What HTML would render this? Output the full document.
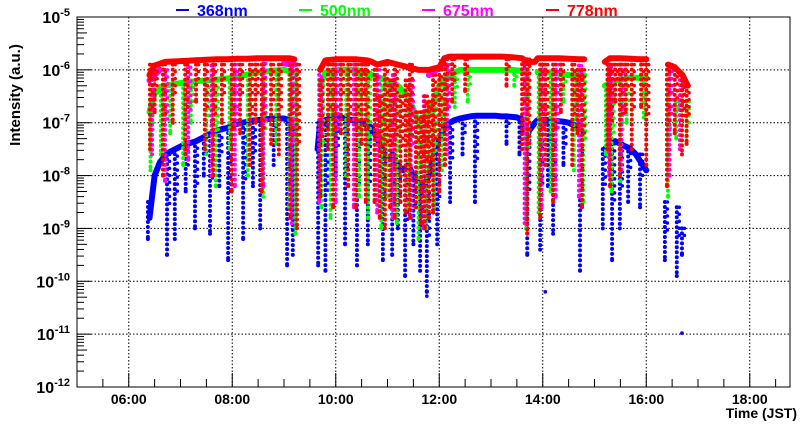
<!DOCTYPE html>
<html><head><meta charset="utf-8">
<style>
html,body{margin:0;padding:0;background:#fff;}
svg{display:block;font-family:"Liberation Sans",Arial,sans-serif;font-weight:bold;}
</style></head>
<body>
<svg id="chart" width="800" height="427" viewBox="0 0 800 427"></svg>
<script>
// ---- data (time in hours JST, value as log10 intensity) ----
const xTicks = [6, 8, 10, 12, 14, 16, 18];
const xTickLabels = ["06:00", "08:00", "10:00", "12:00", "14:00", "16:00", "18:00"];
const yDecades = [-12, -11, -10, -9, -8, -7, -6, -5];
const seriesNames = ["368nm", "500nm", "675nm", "778nm"];
const seriesColors = ["#0000ff", "#00ff00", "#ff00ff", "#ff0000"];

const blueBase = [[6.4,-8.8],[6.5,-8.0],[6.6,-7.75],[6.7,-7.62],[6.8,-7.55],[6.9,-7.5],[7.0,-7.45],[7.1,-7.4],[7.2,-7.38],[7.3,-7.35],[7.4,-7.3],[7.5,-7.25],[7.6,-7.2],[7.7,-7.15],[7.8,-7.12],[7.9,-7.1],[8.0,-7.05],[8.1,-7.02],[8.2,-7.0],[8.3,-6.98],[8.4,-6.96],[8.5,-6.95],[8.6,-6.94],[8.7,-6.93],[8.8,-6.92],[8.9,-6.92],[9.0,-6.92],[9.1,-6.95],[9.2,-7.2],
[9.65,-7.5],[9.7,-7.0],[9.8,-6.95],[9.9,-6.92],[10.0,-6.9],[10.1,-6.9],[10.2,-6.92],[10.3,-6.95],[10.4,-6.95],[10.5,-7.0],[10.6,-7.05],[10.7,-7.1],[10.8,-7.3],[10.9,-7.5],[11.0,-7.7],[11.1,-7.6],[11.2,-7.8],[11.3,-7.9],[11.4,-7.8],[11.5,-8.0],[11.6,-8.1],[11.7,-8.2],[11.8,-8.0],[11.9,-7.6],
[12.0,-7.3],[12.1,-7.1],[12.2,-7.0],[12.3,-6.95],[12.4,-6.92],[12.5,-6.9],[12.6,-6.88],[12.7,-6.87],[12.8,-6.87],[12.9,-6.87],[13.0,-6.87],[13.1,-6.87],[13.2,-6.88],[13.3,-6.88],[13.4,-6.89],[13.5,-6.9],[13.6,-6.95],[13.7,-7.2],
[13.85,-7.0],[13.9,-6.95],[14.0,-6.95],[14.1,-6.95],[14.2,-6.96],[14.3,-6.97],[14.4,-6.98],[14.5,-7.0],[14.6,-7.05],[14.7,-7.05],
[15.2,-7.5],[15.3,-7.4],[15.4,-7.35],[15.5,-7.4],[15.6,-7.45],[15.7,-7.5],[15.8,-7.6],[15.9,-7.75],[16.0,-7.9]];
const blueDips = [[6.37,-8.5,-9.2],[6.74,-7.6,-9.5],[6.89,-7.5,-9.2],[7.1,-7.4,-8.3],[7.28,-7.35,-9.0],[7.45,-7.3,-8.0],[7.57,-7.25,-9.1],[7.75,-7.15,-8.2],[7.92,-7.1,-9.6],[8.21,-7.0,-9.2],[8.4,-7.0,-8.2],[8.54,-6.95,-9.0],[8.8,-6.95,-7.8],[9.06,-6.93,-9.7],[9.17,-6.95,-9.5],[9.66,-7.0,-9.7],[9.80,-6.95,-9.8],[10.0,-6.9,-8.0],[10.18,-6.92,-9.3],[10.41,-6.95,-9.7],[10.62,-7.05,-9.3],[10.91,-7.5,-9.6],[11.09,-7.6,-9.5],[11.2,-7.8,-9.0],[11.34,-7.9,-9.9],[11.5,-8.0,-9.3],[11.63,-8.1,-9.8],[11.76,-8.2,-10.2],[11.96,-7.6,-9.3],[12.21,-7.0,-8.5],[12.45,-6.92,-7.6],[12.69,-6.88,-8.5],[13.3,-6.88,-7.4],[13.55,-6.9,-7.6],[13.70,-7.2,-9.5],[13.95,-6.95,-9.4],[14.1,-6.95,-8.2],[14.20,-6.95,-9.1],[14.4,-7.0,-7.8],[14.72,-7.05,-9.8],[15.16,-7.5,-9.0],[15.34,-7.4,-9.6],[15.49,-7.4,-9.0],[15.65,-7.45,-8.5],[15.88,-7.6,-8.6],[16.36,-8.5,-9.6],[16.59,-8.6,-9.9],[16.69,-9.0,-9.5]];
const blueSingles = [[11.76,-10.28],[14.05,-10.2],[16.69,-10.98]];

const greenBase = [[6.4,-6.8],[6.5,-6.45],[6.7,-6.3],[7.0,-6.25],[7.25,-6.22],[7.5,-6.2],[7.75,-6.18],[8.0,-6.15],[8.25,-6.1],[8.5,-6.05],[8.75,-6.02],[9.0,-6.0],[9.2,-6.05],
[9.7,-6.3],[9.8,-6.05],[10.0,-6.0],[10.2,-6.0],[10.4,-6.0],[10.55,-6.05],[10.7,-6.1],[10.85,-6.15],[11.0,-6.2],[11.2,-6.3],[11.4,-6.5],[11.6,-7.0],[11.8,-6.8],
[12.0,-6.3],[12.2,-6.1],[12.4,-6.0],[12.6,-6.0],[12.8,-6.0],[13.0,-6.0],[13.2,-6.0],[13.4,-6.0],[13.6,-6.02],
[13.9,-6.05],[14.05,-6.05],[14.2,-6.05],[14.35,-6.08],[14.5,-6.1],[14.65,-6.1],[14.8,-6.1],
[15.2,-6.3],[15.3,-6.25],[15.4,-6.2],[15.55,-6.18],[15.7,-6.15],[15.85,-6.15],[16.0,-6.15]];
const greenDips = [[6.42,-6.6,-7.9],[6.62,-6.3,-7.6],[6.8,-6.3,-7.2],[7.05,-6.25,-7.8],[7.2,-6.2,-7.0],[7.5,-6.2,-7.6],[7.68,-6.2,-8.2],[7.95,-6.15,-7.5],[8.3,-6.1,-8.0],[8.6,-6.05,-8.4],[8.85,-6.0,-7.4],[9.1,-6.0,-8.6],[9.22,-6.05,-9.1],[9.72,-6.3,-8.6],[9.9,-6.0,-8.8],[10.2,-6.0,-8.0],[10.45,-6.0,-8.4],[10.62,-6.05,-8.8],[10.88,-6.2,-9.0],[11.0,-6.2,-8.4],[11.18,-6.3,-8.9],[11.4,-6.5,-8.6],[11.6,-7.0,-9.2],[11.75,-6.8,-9.0],[11.9,-6.6,-8.6],[12.05,-6.2,-7.9],[12.3,-6.05,-6.7],[12.55,-6.0,-6.6],[13.45,-6.0,-6.3],[13.68,-6.0,-9.0],[13.92,-6.05,-8.7],[14.15,-6.05,-8.3],[14.4,-6.08,-6.6],[14.6,-6.1,-7.9],[14.78,-6.1,-8.5],[15.22,-6.3,-7.6],[15.33,-6.25,-8.3],[15.5,-6.2,-8.1],[15.62,-6.18,-7.0],[15.95,-6.15,-6.9],[16.42,-6.3,-8.4],[16.58,-6.6,-7.3],[16.78,-6.6,-7.4]];

const magentaBase = [[6.4,-6.2],[6.6,-6.0],[7.0,-5.95],[7.5,-5.92],[8.0,-5.9],[8.5,-5.88],[9.0,-5.88],[9.2,-5.9],
[9.8,-5.9],[10.2,-5.9],[10.6,-5.92],[11.0,-6.0],[11.4,-6.0],[11.8,-6.1],
[12.1,-5.9],[12.5,-5.85],[13.0,-5.85],[13.6,-5.88],
[13.9,-5.9],[14.3,-5.9],[14.8,-5.92],
[15.2,-5.95],[15.6,-5.9],[16.0,-5.92]];
const magentaDips = [[6.45,-6.0,-7.6],[6.7,-6.0,-8.1],[7.15,-5.95,-7.7],[7.6,-5.92,-8.0],[8.05,-5.9,-8.2],[8.6,-5.88,-8.2],[9.15,-5.88,-8.9],[9.68,-6.0,-8.5],[10.0,-5.9,-8.5],[10.35,-5.9,-8.6],[10.8,-6.0,-8.7],[11.1,-6.1,-8.8],[11.45,-6.2,-8.8],[11.7,-6.5,-9.0],[12.15,-5.9,-7.6],[13.65,-5.88,-8.9],[13.98,-5.9,-8.6],[14.25,-5.9,-8.4],[14.7,-5.92,-8.4],[15.28,-5.95,-8.0],[15.52,-5.9,-7.9],[16.45,-5.9,-8.0],[16.65,-6.1,-7.5]];

const redBase = [[6.4,-6.1],[6.5,-5.92],[6.7,-5.85],[6.9,-5.84],[7.1,-5.83],[7.3,-5.82],[7.5,-5.81],[7.7,-5.8],[7.9,-5.8],[8.1,-5.79],[8.3,-5.79],[8.5,-5.78],[8.7,-5.78],[8.9,-5.78],[9.1,-5.78],[9.2,-5.8],
[9.7,-6.0],[9.8,-5.82],[10.0,-5.8],[10.2,-5.8],[10.4,-5.8],[10.6,-5.82],[10.7,-5.85],[10.8,-5.9],[11.0,-5.85],[11.2,-5.9],[11.4,-5.95],[11.6,-6.0],[11.8,-6.0],
[12.0,-5.95],[12.1,-5.78],[12.2,-5.75],[12.4,-5.75],[12.6,-5.75],[12.8,-5.75],[13.0,-5.75],[13.2,-5.75],[13.4,-5.76],[13.6,-5.78],[13.7,-5.85],
[13.85,-5.85],[13.9,-5.78],[14.1,-5.78],[14.3,-5.78],[14.5,-5.79],[14.7,-5.8],[14.8,-5.8],
[15.2,-5.85],[15.3,-5.78],[15.5,-5.78],[15.7,-5.79],[15.9,-5.8],[16.0,-5.8],
[16.42,-5.9],[16.55,-5.95],[16.7,-6.1],[16.8,-6.3]];
const redDips = [[6.41,-5.9,-7.5],[6.5,-5.9,-6.8],[6.66,-5.9,-8.0],[6.85,-5.9,-7.0],[7.09,-5.9,-7.6],[7.3,-5.9,-6.6],[7.47,-5.9,-7.5],[7.63,-5.9,-8.0],[7.8,-5.9,-7.0],[7.99,-5.9,-8.3],[8.15,-5.9,-7.2],[8.34,-5.9,-7.8],[8.45,-5.9,-7.0],[8.57,-5.9,-8.3],[8.75,-5.9,-7.4],[8.9,-5.9,-7.6],[9.12,-5.9,-8.8],[9.25,-5.9,-9.0],[9.7,-6.2,-8.4],[9.85,-5.9,-7.5],[9.95,-5.9,-8.6],[10.1,-5.9,-7.2],[10.24,-5.9,-8.2],[10.39,-5.9,-8.6],[10.5,-5.9,-7.4],[10.58,-5.9,-8.5],[10.75,-6.0,-8.5],[10.85,-6.5,-8.8],[10.95,-5.9,-9.0],[11.05,-6.2,-8.6],[11.14,-5.9,-8.8],[11.25,-6.5,-8.5],[11.35,-6.2,-8.7],[11.43,-5.9,-8.8],[11.55,-6.8,-8.6],[11.65,-6.8,-8.9],[11.72,-6.5,-9.0],[11.8,-6.6,-8.8],[11.88,-6.1,-8.7],[12.0,-6.0,-8.3],[12.11,-5.8,-7.8],[12.25,-5.8,-6.6],[12.5,-5.8,-6.4],[13.3,-5.8,-6.3],[13.6,-5.8,-7.5],[13.7,-5.8,-9.1],[13.95,-5.9,-8.8],[14.05,-5.9,-7.8],[14.2,-5.9,-8.5],[14.35,-5.9,-6.8],[14.57,-5.9,-7.8],[14.67,-6.0,-7.2],[14.76,-6.0,-8.6],[15.25,-5.9,-7.5],[15.3,-5.9,-8.2],[15.4,-5.9,-6.6],[15.49,-5.9,-8.0],[15.6,-5.9,-6.8],[15.72,-5.9,-7.5],[15.9,-5.9,-6.7],[16.0,-5.9,-7.8],[16.4,-5.9,-8.2],[16.55,-6.0,-7.2],[16.69,-6.2,-7.6],[16.78,-6.3,-7.4]];

// ---- layout ----
const L = 77, R = 790, T = 17, B = 387;
const X0 = 5, X1 = 5 + (R - L) / 51.75;
const NS = "http://www.w3.org/2000/svg";
const svg = document.getElementById("chart");
function xs(t){ return L + (t - X0) * 51.75; }
function ys(v){ return T + (-5 - v) * (B - T) / 7; }
function el(tag, attrs, parent){
  const e = document.createElementNS(NS, tag);
  for (const k in attrs) e.setAttribute(k, attrs[k]);
  (parent || svg).appendChild(e);
  return e;
}

// grid
const grid = el("g", {});


xTicks.forEach(t => {
  const l = el("line", {x1: xs(t), x2: xs(t), y1: T, y2: B, stroke: "#000", "stroke-width": 1, "stroke-dasharray": "1.5 2"}, grid);
  
  
});
yDecades.forEach(d => {
  if (d === -12 || d === -5) return;
  const l = el("line", {x1: L, x2: R, y1: ys(d), y2: ys(d), stroke: "#000", "stroke-width": 1, "stroke-dasharray": "1.5 2"}, grid);
  
  
});

// series
function drawSeries(name, color, base, dips, singles){
  const g = el("g", {fill: color, stroke: color});
  
  
  let d = "";
  base.forEach((p, i) => {
    const brk = i === 0 || p[0] - base[i-1][0] > 0.3;
    d += (brk ? "M" : "L") + xs(p[0]).toFixed(1) + " " + ys(p[1]).toFixed(1) + " ";
  });
  const band = el("path", {d: d, fill: "none", "stroke-width": 6, "stroke-linecap": "round", "stroke-linejoin": "round"}, g);
  
  
  dips.forEach(p => {
    const ln = el("line", {x1: xs(p[0]), x2: xs(p[0]), y1: ys(p[1]), y2: ys(p[2]), "stroke-width": 4, "stroke-linecap": "round", "stroke-dasharray": "0 5"}, g);
    
    
    const ln2 = el("line", {x1: xs(p[0]) + 2.5, x2: xs(p[0]) + 2.5, y1: ys(p[1]), y2: ys((p[1] + p[2]) / 2), "stroke-width": 3.5, "stroke-linecap": "round", "stroke-dasharray": "0 7"}, g);
    
    
    const c = el("circle", {cx: xs(p[0]), cy: ys(p[2]), r: 2, stroke: "none"}, g);
    
    
  });
  (singles || []).forEach(p => {
    const c = el("circle", {cx: xs(p[0]), cy: ys(p[1]), r: 1.8, stroke: "none"}, g);
    
    
  });
}
drawSeries("368nm", seriesColors[0], blueBase, blueDips, blueSingles);
drawSeries("500nm", seriesColors[1], greenBase, greenDips, []);
drawSeries("675nm", seriesColors[2], magentaBase, magentaDips, []);
drawSeries("778nm", seriesColors[3], redBase, redDips, []);

// frame
const frame = el("rect", {x: L, y: T, width: R - L, height: B - T, fill: "none", stroke: "#000", "stroke-width": 1});



// y axis
const yax = el("g", {});


yDecades.forEach(d => {
  el("line", {x1: L, x2: L + 14, y1: ys(d), y2: ys(d), stroke: "#000"}, yax);
  if (d > -12) for (let k = 2; k <= 9; k++) {
    const y = ys(d - 1 + Math.log10(k));
    el("line", {x1: L, x2: L + (k === 5 ? 10 : 7), y1: y, y2: y, stroke: "#000"}, yax);
  }
  const tx = el("text", {x: L - 7, y: ys(d) + 6, "text-anchor": "end", "font-size": 16, fill: "#000"}, yax);
  
  
  tx.innerHTML = '10<tspan dy="-7" font-size="11">' + d + '</tspan>';
});
const yt = el("text", {x: 20, y: 95, "text-anchor": "middle", "font-size": 15, fill: "#000", transform: "rotate(-90 20 95)"});


yt.textContent = "Intensity (a.u.)";

// x axis
const xax = el("g", {});


for (let t = 5.5; t < X1; t += 0.5) {
  const major = Math.abs(t % 2) < 1e-6;
  el("line", {x1: xs(t), x2: xs(t), y1: B, y2: B - (major ? 14 : 8), stroke: "#000"}, xax);
}
xTicks.forEach((t, i) => {
  const tx = el("text", {x: xs(t), y: B + 17, "text-anchor": "middle", "font-size": 14, fill: "#000"}, xax);
  
  
  tx.textContent = xTickLabels[i];
});
const xt = el("text", {x: 797, y: 418, "text-anchor": "end", "font-size": 14, fill: "#000"});


xt.textContent = "Time (JST)";

// legend
const legX = [176, 299, 422, 546];
seriesNames.forEach((n, i) => {
  const g = el("g", {});
  
  
  el("line", {x1: legX[i], x2: legX[i] + 13, y1: 10, y2: 10, stroke: seriesColors[i], "stroke-width": 2}, g);
  const tx = el("text", {x: legX[i] + 21, y: 16, "font-size": 16, fill: seriesColors[i]}, g);
  tx.textContent = n;
});
</script>
</body></html>
